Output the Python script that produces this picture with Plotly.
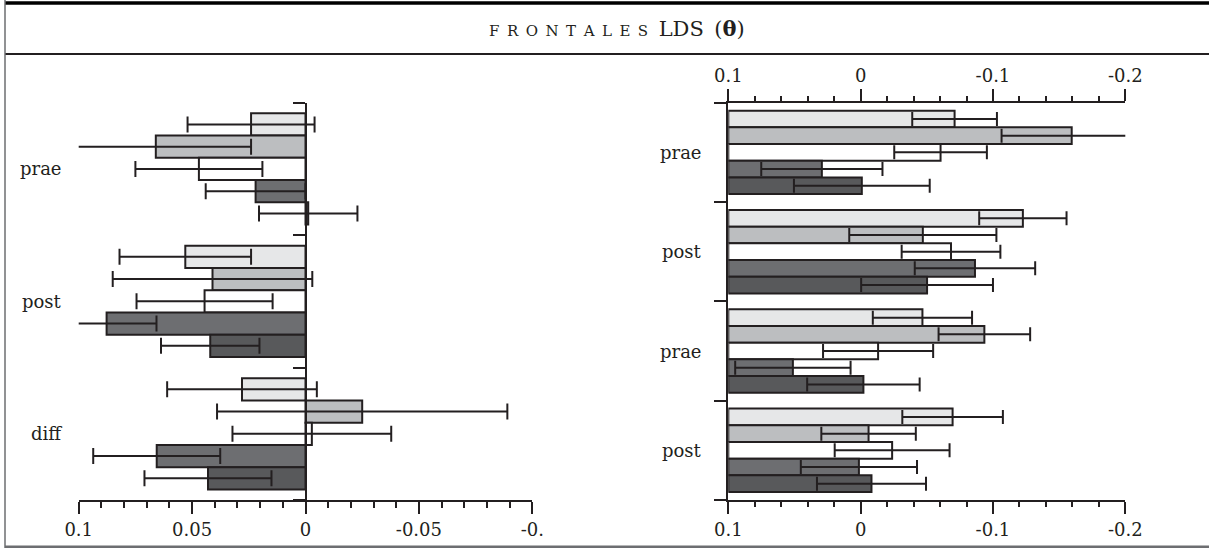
import plotly.graph_objects as go

# ---- data -------------------------------------------------------------
fill_colors = ["#e6e7e8", "#bcbec0", "#ffffff", "#6d6e71", "#58595b"]

left_groups = ["prae", "post", "diff"]
# one list per series, values across the three groups
left_vals = [
    [0.024, 0.053, 0.028],
    [0.066, 0.041, -0.025],
    [0.047, 0.0445, -0.0028],
    [0.022, 0.0877, 0.0656],
    [-0.0012, 0.042, 0.043],
]
left_err = [
    [0.028, 0.029, 0.033],
    [0.042, 0.044, 0.064],
    [0.028, 0.030, 0.035],
    [0.022, 0.022, 0.028],
    [0.0217, 0.0217, 0.028],
]

right_groups = ["prae", "post", "prae", "post"]
right_vals = [
    [-0.071, -0.1226, -0.0467, -0.0695],
    [-0.1595, -0.047, -0.0935, -0.006],
    [-0.0604, -0.0683, -0.0132, -0.0238],
    [0.0293, -0.0864, 0.0512, 0.0013],
    [-0.0009, -0.0502, -0.0021, -0.0082],
]
right_err = [
    [0.032, 0.033, 0.0375, 0.038],
    [0.053, 0.0556, 0.0346, 0.0357],
    [0.035, 0.0373, 0.0416, 0.0434],
    [0.0458, 0.0455, 0.0436, 0.0439],
    [0.0513, 0.0498, 0.0425, 0.0412],
]
right_base = 0.1  # right-hand bars grow from the left edge of the axis

left_ticks = [0.1, 0.05, 0, -0.05, -0.1]
left_ticktext = ["0.1", "0.05", "0", "-0.05", "-0."]
right_ticks = [0.1, 0, -0.1, -0.2]
right_ticktext = ["0.1", "0", "-0.1", "-0.2"]

# ---- styling ----------------------------------------------------------
W, H = 1209, 548
INK = "#231f20"
FONT = "DejaVu Serif"


def px_x(p):
    return p / W


def px_y(p):
    return 1 - p / H


left_dom = [px_x(78.7), px_x(532.3)]
right_dom = [px_x(728.3), px_x(1125.3)]
y_dom = [px_y(500), px_y(102.7)]

fig = go.Figure()

left_pos = list(range(len(left_groups)))
right_pos = list(range(len(right_groups)))

for i in range(5):
    fig.add_trace(go.Bar(
        y=left_pos, x=left_vals[i], orientation="h",
        marker=dict(color=fill_colors[i], line=dict(color=INK, width=2)),
        error_x=dict(type="data", array=left_err[i], color=INK,
                     thickness=2, width=8),
        xaxis="x", yaxis="y", showlegend=False, hoverinfo="skip",
    ))

for i in range(5):
    fig.add_trace(go.Bar(
        y=right_pos, x=[v - right_base for v in right_vals[i]],
        base=right_base, orientation="h",
        marker=dict(color=fill_colors[i], line=dict(color=INK, width=2)),
        error_x=dict(type="data", array=right_err[i], color=INK,
                     thickness=2, width=7),
        xaxis="x2", yaxis="y2", showlegend=False, hoverinfo="skip",
    ))

# carrier for the top axis of the right panel
fig.add_trace(go.Scatter(
    x=right_vals[0], y=right_pos, mode="markers",
    marker=dict(opacity=0), xaxis="x3", yaxis="y2",
    showlegend=False, hoverinfo="skip",
))

tickfont = dict(family=FONT, size=18, color=INK)

common_x = dict(
    showline=True, linecolor=INK, linewidth=2,
    ticks="outside", ticklen=12, tickwidth=1.5, tickcolor=INK,
    showgrid=False, zeroline=False, tickfont=tickfont,
    tickmode="array", fixedrange=True, automargin=False,
)
common_y = dict(
    showline=True, linecolor=INK, linewidth=2,
    ticks="outside", ticklen=12, tickwidth=1.5, tickcolor=INK,
    showgrid=False, zeroline=False, showticklabels=False,
    tickmode="array", domain=y_dom, fixedrange=True, automargin=False,
)

zero_pos = left_dom[0] + (left_dom[1] - left_dom[0]) / 2

fig.update_layout(
    width=W, height=H,
    margin=dict(l=0, r=0, t=0, b=0, pad=0, autoexpand=False),
    showlegend=False,
    paper_bgcolor="white", plot_bgcolor="rgba(0,0,0,0)",
    barmode="group", bargap=0.16, bargroupgap=0,
    xaxis=dict(domain=left_dom, range=[0.1, -0.1], anchor="y",
               tickvals=left_ticks, ticktext=left_ticktext,
               minor=dict(dtick=0.01, tick0=0, ticks="outside", ticklen=6,
                          tickwidth=1.5, tickcolor=INK, showgrid=False),
               **common_x),
    yaxis=dict(range=[len(left_groups) - 0.5, -0.5], anchor="free",
               position=zero_pos,
               tickvals=[k - 0.5 for k in range(len(left_groups) + 1)],
               **common_y),
    xaxis2=dict(domain=right_dom, range=[0.1, -0.2], anchor="y2",
                tickvals=right_ticks, ticktext=right_ticktext,
                minor=dict(dtick=0.02, tick0=0, ticks="outside", ticklen=5,
                           tickwidth=1.5, tickcolor=INK, showgrid=False),
                **common_x),
    xaxis3=dict(domain=right_dom, range=[0.1, -0.2], anchor="y2",
                overlaying="x2", side="top", matches="x2",
                tickvals=right_ticks, ticktext=right_ticktext,
                minor=dict(dtick=0.02, tick0=0, ticks="outside", ticklen=5,
                           tickwidth=1.5, tickcolor=INK, showgrid=False),
                **common_x),
    yaxis2=dict(range=[len(right_groups) - 0.5, -0.5], anchor="x2",
                tickvals=[k - 0.5 for k in range(len(right_groups) + 1)],
                **common_y),
)

label_font = dict(family=FONT, size=18, color=INK)
annotations = []
for k, g in enumerate(left_groups):
    annotations.append(dict(text=g, x=px_x(64), xref="paper", xanchor="right",
                            y=k, yref="y", yanchor="middle",
                            showarrow=False, font=label_font))
for k, g in enumerate(right_groups):
    annotations.append(dict(text=g, x=px_x(704), xref="paper", xanchor="right",
                            y=k, yref="y2", yanchor="middle",
                            showarrow=False, font=label_font))

sp = "\u2002"
small_caps = sp.join("FRONTALES")
annotations.append(dict(
    text=(f"<span style='font-size:15px'>{small_caps}</span>"
          f"{sp}LDS{sp}(<b>θ</b>)"),
    x=px_x(617), xref="paper", xanchor="center",
    y=px_y(28), yref="paper", yanchor="middle",
    showarrow=False, font=dict(family=FONT, size=21, color=INK),
))
fig.update_layout(annotations=annotations)

# table frame around the panels
frame = [
    dict(x0=px_x(5), x1=1, y0=px_y(3), y1=px_y(3), w=3.5, c="#000000"),
    dict(x0=px_x(5), x1=1, y0=px_y(54), y1=px_y(54), w=2, c=INK),
    dict(x0=px_x(5), x1=1, y0=px_y(546.8), y1=px_y(546.8), w=2.5, c="#6d6e71"),
    dict(x0=px_x(5), x1=px_x(5), y0=px_y(0), y1=px_y(548), w=1.5, c="#6d6e71"),
]
fig.update_layout(shapes=[
    dict(type="line", xref="paper", yref="paper",
         x0=f["x0"], x1=f["x1"], y0=f["y0"], y1=f["y1"],
         line=dict(color=f["c"], width=f["w"]))
    for f in frame
])

fig.write_html("out.html")
